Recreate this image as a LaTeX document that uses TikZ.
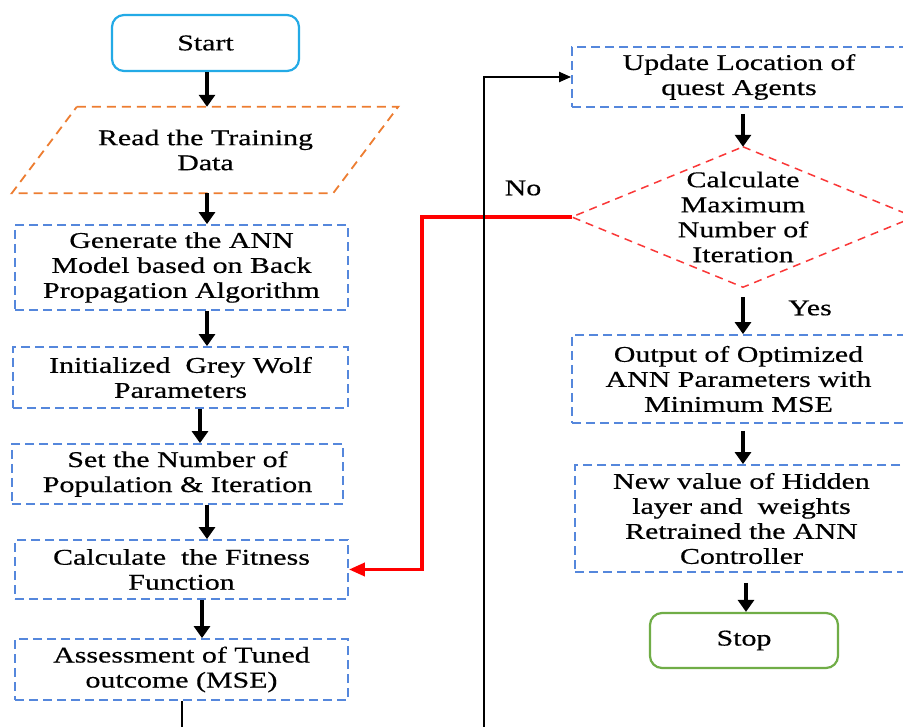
\documentclass[tikz,border=0pt]{standalone}
\usepackage{fontspec}
\setmainfont{Liberation Serif}[FakeStretch=1.33, FakeBold=0.5]
\usetikzlibrary{arrows.meta}
\definecolor{boxblue}{RGB}{85,135,220}
\definecolor{termblue}{RGB}{35,170,230}
\definecolor{termgreen}{RGB}{112,173,71}
\definecolor{ioorange}{RGB}{237,125,49}
\definecolor{decred}{RGB}{250,55,55}
\begin{document}
\begin{tikzpicture}[x=1pt,y=-1pt,
  every node/.style={font=\fontsize{22.5}{25}\selectfont, align=center, inner sep=0pt},
  procbox/.style={draw=boxblue, line width=1.8pt, dash pattern=on 9pt off 5pt},
  termbox/.style={draw=#1, line width=2.2pt, rounded corners=12pt},
  iodash/.style={draw=ioorange, line width=1.8pt, dash pattern=on 9pt off 6pt},
  decdash/.style={draw=decred, line width=1.5pt, dash pattern=on 8pt off 6pt},
  bigarrow/.style={line width=3.6pt, -{Triangle[width=16pt,length=12pt]}},
  redarrow/.style={draw=red, line width=3.6pt, -{Triangle[width=13pt,length=16pt]}},
  thinarrow/.style={line width=2pt, -{Triangle[width=10pt,length=12pt]}}]
\clip (0,0) rectangle (903,727);
\fill[white] (0,0) rectangle (903,727);

% arrow columns
\coordinate (cA) at (207,0);
\coordinate (cB) at (200,0);
\coordinate (cC) at (202,0);
\coordinate (cR) at (743,0);
\coordinate (cS) at (746,0);
\coordinate (cRed) at (422,0);
\coordinate (lb) at (484,745);

% left column
\node[termbox=termblue, minimum width=187pt, minimum height=56pt] (start) at (205.5,43) {Start};
\node[minimum width=321pt, minimum height=86pt] (read) at (205.5,150) {Read the Training\\Data};
\draw[iodash] ([xshift=32pt]read.north west) -- ([xshift=32pt]read.north east)
  -- ([xshift=-33pt]read.south east) -- ([xshift=-33pt]read.south west) -- cycle;
\node[procbox, minimum width=333pt, minimum height=85pt] (gen) at (181.5,267.5)
  {Generate the ANN\\Model based on Back\\Propagation Algorithm};
\node[procbox, minimum width=335pt, minimum height=61pt] (init) at (180.5,377.5)
  {Initialized\ \ Grey Wolf\\Parameters};
\node[procbox, minimum width=331pt, minimum height=60pt] (set) at (177.5,474)
  {Set the Number of\\Population \& Iteration};
\node[procbox, minimum width=333pt, minimum height=59pt] (fit) at (181.5,569.5)
  {Calculate\ \ the Fitness\\Function};
\node[procbox, minimum width=333pt, minimum height=61pt] (assess) at (181.5,669.5)
  {Assessment of Tuned\\outcome (MSE)};

% right column
\node[procbox, minimum width=334pt, minimum height=60pt] (upd) at (739,77)
  {Update Location of\\quest Agents};
\node[minimum width=342pt, minimum height=140pt] (dec) at (743,217)
  {Calculate\\Maximum\\Number of\\Iteration};
\draw[decdash] (dec.north) -- (dec.east) -- (dec.south) -- (dec.west) -- cycle;
\node[procbox, minimum width=333pt, minimum height=88pt] (out) at (738.5,379)
  {Output of Optimized\\ANN Parameters with\\Minimum MSE};
\node[procbox, minimum width=333pt, minimum height=107pt] (newv) at (741.5,518.5)
  {New value of Hidden\\layer and\ \ weights\\Retrained the ANN\\Controller};
\node[termbox=termgreen, minimum width=188pt, minimum height=55pt] (stop) at (744,640.5) {Stop};

\node (no) at (523,188) {No};
\node (yes) at (810,308) {Yes};

% flow arrows
\draw[bigarrow] (start.south -| cA) -- (read.north -| cA);
\draw[bigarrow] (read.south -| cA) -- (gen.north -| cA);
\draw[bigarrow] (gen.south -| cA) -- (init.north -| cA);
\draw[bigarrow] (init.south -| cB) -- (set.north -| cB);
\draw[bigarrow] (set.south -| cA) -- (fit.north -| cA);
\draw[bigarrow] (fit.south -| cC) -- (assess.north -| cC);
\draw[bigarrow, shorten <=6pt] (upd.south -| cR) -- (dec.north);
\draw[bigarrow, shorten <=10pt] (dec.south) -- (out.north -| cR);
\draw[bigarrow, shorten <=7pt] (out.south -| cR) -- (newv.north -| cR);
\draw[bigarrow, shorten <=10pt] (newv.south -| cS) -- (stop.north -| cS);

% "No" branch back to the fitness step
\draw[redarrow] (dec.west) -- (dec.west -| cRed) |- (fit.east);

% loop from the assessment to the agent update
\draw[thinarrow] (assess.south) |- (lb) |- (upd.west);
\end{tikzpicture}
\end{document}
